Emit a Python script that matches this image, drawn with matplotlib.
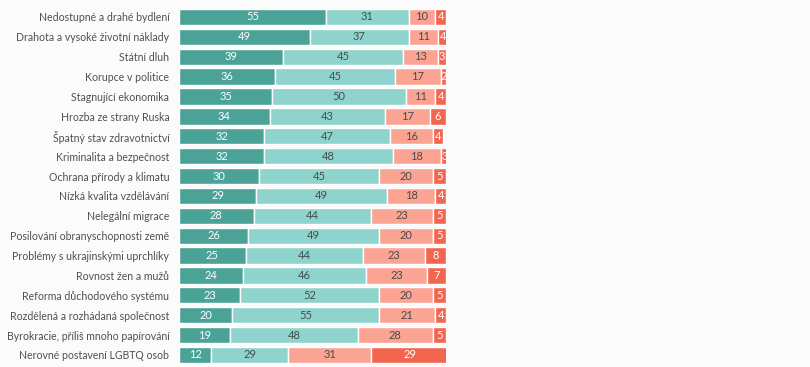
import matplotlib
matplotlib.use("Agg")
import matplotlib.pyplot as plt
import numpy as np

categories = [
    "Nedostupné a drahé bydlení",
    "Drahota a vysoké životní náklady",
    "Státní dluh",
    "Korupce v politice",
    "Stagnující ekonomika",
    "Hrozba ze strany Ruska",
    "Špatný stav zdravotnictví",
    "Kriminalita a bezpečnost",
    "Ochrana přírody a klimatu",
    "Nízká kvalita vzdělávání",
    "Nelegální migrace",
    "Posilování obranyschopnosti země",
    "Problémy s ukrajinskými uprchlíky",
    "Rovnost žen a mužů",
    "Reforma důchodového systému",
    "Rozdělená a rozhádaná společnost",
    "Byrokracie, příliš mnoho papírování",
    "Nerovné postavení LGBTQ osob",
]
s1 = [55, 49, 39, 36, 35, 34, 32, 32, 30, 29, 28, 26, 25, 24, 23, 20, 19, 12]
s2 = [31, 37, 45, 45, 50, 43, 47, 48, 45, 49, 44, 49, 44, 46, 52, 55, 48, 29]
s3 = [10, 11, 13, 17, 11, 17, 16, 18, 20, 18, 23, 20, 23, 23, 20, 21, 28, 31]
s4 = [4, 4, 3, 2, 4, 6, 4, 3, 5, 4, 5, 5, 8, 7, 5, 4, 5, 29]

series = [s1, s2, s3, s4]
colors = ["#4aa396", "#8fd4cc", "#fca493", "#f2654f"]
text_colors = ["white", "#3f4f4e", "#4a4a4a", "white"]

plt.rcParams['font.family'] = ['Lato', 'DejaVu Sans']

fig = plt.figure(figsize=(8.1, 3.67), dpi=100)
fig.patch.set_facecolor("#fbfbfb")
ax = fig.add_axes([0.221, 0.0057, 0.3296, 0.9751])
ax.set_facecolor("#fbfbfb")

y = np.arange(len(categories))
left = np.zeros(len(categories))
for vals, c, tc in zip(series, colors, text_colors):
    vals = np.array(vals, dtype=float)
    ax.barh(y, vals, left=left, height=0.82, color=c, edgecolor="white", linewidth=1.0)
    for yi, (l, v) in enumerate(zip(left, vals)):
        ax.text(l + v / 2, yi, f"{int(v)}", ha="center", va="center",
                fontsize=8, color=tc)
    left += vals

ax.set_xlim(0, 100)
ax.set_ylim(len(categories) - 0.5, -0.5)
ax.set_yticks(y)
ax.set_yticklabels(categories, fontsize=7.6, color="#505050")
ax.tick_params(axis="y", length=0, pad=7)
ax.set_xticks([])
for sp in ax.spines.values():
    sp.set_visible(False)

fig.savefig("out.png", dpi=100, facecolor=fig.get_facecolor())
